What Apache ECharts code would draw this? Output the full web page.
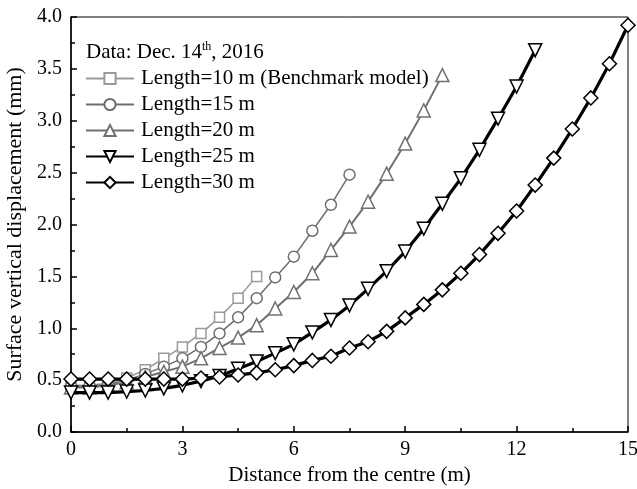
<!DOCTYPE html>
<html>
<head>
<meta charset="utf-8">
<script src="https://cdn.jsdelivr.net/npm/echarts@6/dist/echarts.min.js"></script>
<style>
html,body{margin:0;padding:0;background:#fff;}
#c{width:637px;height:489px;}
</style>
</head>
<body>
<div id="c"></div>
<script>
const distance = [0,0.5,1,1.5,2,2.5,3,3.5,4,4.5,5,5.5,6,6.5,7,7.5,8,8.5,9,9.5,10,10.5,11,11.5,12,12.5,13,13.5,14,14.5,15];
const seriesNames = ['Length=10 m (Benchmark model)','Length=15 m','Length=20 m','Length=25 m','Length=30 m'];
const len10 = [0.45,0.45,0.47,0.52,0.60,0.71,0.82,0.95,1.105,1.29,1.50];
const len15 = [0.44,0.44,0.46,0.50,0.56,0.63,0.71,0.82,0.95,1.105,1.29,1.49,1.69,1.94,2.19,2.48];
const len20 = [0.43,0.43,0.45,0.48,0.53,0.58,0.63,0.71,0.81,0.91,1.03,1.19,1.35,1.53,1.755,1.98,2.22,2.49,2.78,3.10,3.44];
const len25 = [0.38,0.38,0.38,0.39,0.40,0.42,0.45,0.49,0.54,0.61,0.68,0.76,0.845,0.96,1.08,1.22,1.38,1.55,1.74,1.96,2.20,2.445,2.72,3.02,3.33,3.68];
const len30 = [0.51,0.51,0.51,0.51,0.51,0.51,0.51,0.52,0.53,0.55,0.57,0.60,0.64,0.69,0.73,0.81,0.87,0.97,1.10,1.23,1.37,1.53,1.71,1.915,2.13,2.38,2.64,2.92,3.22,3.55,3.92];
const xTicks = [0,3,6,9,12,15];
const yTicks = [0.0,0.5,1.0,1.5,2.0,2.5,3.0,3.5,4.0];

const FONT = 'Liberation Serif';
function pairs(arr){ return arr.map((v,i)=>[distance[i], v]); }

const styles = [
  {data: len10, color:'#9a9a9a', width:1.5, symbol:'rect', size:10, rotate:0},
  {data: len15, color:'#6e6e6e', width:1.5, symbol:'circle', size:11, rotate:0},
  {data: len20, color:'#707070', width:2, symbol:'triangle', size:13, rotate:0},
  {data: len25, color:'#000000', width:3.2, symbol:'triangle', size:13, rotate:180},
  {data: len30, color:'#000000', width:3.2, symbol:'diamond', size:14, rotate:0}
];

const series = styles.map((s,i)=>({
  name: seriesNames[i],
  type: 'line',
  data: pairs(s.data),
  symbol: s.symbol,
  symbolSize: s.size,
  symbolRotate: s.rotate,
  showAllSymbol: true,
  clip: false,
  lineStyle: {color: s.color, width: s.width},
  itemStyle: {color: '#fff', borderColor: s.color, borderWidth: 1.5},
  emphasis: {disabled: true},
  animation: false,
  z: 2 + i
}));

const chart = echarts.init(document.getElementById('c'), null, {renderer:'canvas'});
chart.setOption({
  animation: false,
  backgroundColor: '#fff',
  grid: {left: 71, right: 9, top: 17, bottom: 57, containLabel: false, outerBoundsMode: 'none',
    show: true, borderColor: '#000', borderWidth: 1, backgroundColor: 'transparent'},
  graphic: [{
    type: 'text',
    left: 86, top: 41,
    style: {
      text: 'Data: Dec. 14{sup|th}, 2016',
      font: '21px "Liberation Serif"',
      fill: '#000',
      rich: {sup: {fontSize: 12, verticalAlign: 'top', padding: [0,0,10,0], fontFamily: FONT}}
    }
  }],
  legend: {
    orient: 'vertical',
    left: 80, top: 63,
    itemWidth: 48, itemHeight: 14, itemGap: 5,
    symbolRotate: 'inherit',
    textStyle: {fontFamily: FONT, fontSize: 21, color: '#000', padding: [0,0,0,2]},
    data: seriesNames
  },
  xAxis: {
    type: 'value', min: 0, max: 15, interval: 3,
    name: 'Distance from the centre (m)', nameLocation: 'middle', nameGap: 31,
    nameTextStyle: {fontFamily: FONT, fontSize: 21, color: '#000'},
    axisLine: {onZero: false, lineStyle: {color: '#000', width: 1.5}},
    axisTick: {inside: true, length: 6, lineStyle: {color: '#000', width: 1.5}},
    minorTick: {show: true, splitNumber: 2, length: 4, lineStyle: {color: '#000', width: 1.5}},
    axisLabel: {fontFamily: FONT, fontSize: 20, color: '#000', margin: 8,
      formatter: v => xTicks.includes(v) ? String(v) : ''},
    splitLine: {show: false}
  },
  yAxis: {
    type: 'value', min: 0, max: 4, interval: 0.5,
    name: 'Surface vertical displacement (mm)', nameLocation: 'middle', nameGap: 40,
    nameTextStyle: {fontFamily: FONT, fontSize: 22, color: '#000'},
    axisLine: {onZero: false, lineStyle: {color: '#000', width: 1.5}},
    axisTick: {inside: true, length: 6, lineStyle: {color: '#000', width: 1.5}},
    minorTick: {show: true, splitNumber: 2, length: 4, lineStyle: {color: '#000', width: 1.5}},
    axisLabel: {fontFamily: FONT, fontSize: 20, color: '#000', margin: 9,
      formatter: v => { const t = yTicks.find(y => Math.abs(y - v) < 1e-9); return t === undefined ? '' : t.toFixed(1); }},
    splitLine: {show: false}
  },
  series: series
});
</script>
</body>
</html>
